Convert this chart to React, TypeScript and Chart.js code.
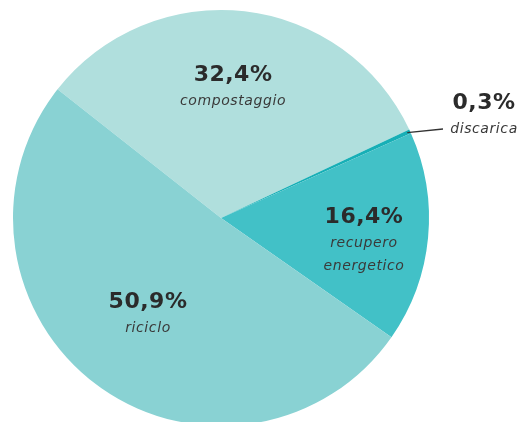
import React, { useEffect, useRef } from "react";
import { Chart, registerables } from "chart.js";

Chart.register(...registerables);

const categories = ["compostaggio", "discarica", "recupero energetico", "riciclo"];
const values = [32.4, 0.3, 16.4, 50.9];
const percentLabels = ["32,4%", "0,3%", "16,4%", "50,9%"];
const nameLines = [["compostaggio"], ["discarica"], ["recupero", "energetico"], ["riciclo"]];
const colors = ["#b0dfdd", "#17afb6", "#42c1c7", "#89d2d3"];

// per-slice label placement: radius fraction and angle tweak (deg)
const labelPlace = [
  { f: 0.69, da: -1.7 },
  { f: 1.38, da: 1.0 },
  { f: 0.6875, da: -5.8 },
  { f: 0.535, da: 4.4 },
];

const labelPlugin = {
  id: "sliceLabels",
  afterDatasetsDraw(chart: any) {
    const ctx = chart.ctx as CanvasRenderingContext2D;
    const meta = chart.getDatasetMeta(0);
    meta.data.forEach((arc: any, i: number) => {
      const { x, y, startAngle, endAngle, outerRadius } = arc.getProps(
        ["x", "y", "startAngle", "endAngle", "outerRadius"],
        true
      );
      const mid = (startAngle + endAngle) / 2 + (labelPlace[i].da * Math.PI) / 180;
      const r = outerRadius * labelPlace[i].f;
      const ax = x + Math.cos(mid) * r;
      const ay = y + Math.sin(mid) * r;
      ctx.save();
      if (i === 1) {
        const am = (startAngle + endAngle) / 2;
        const sx = x + Math.cos(am) * outerRadius * 0.985;
        const sy = y + Math.sin(am) * outerRadius * 0.985;
        ctx.strokeStyle = "#333";
        ctx.lineWidth = 1.3;
        ctx.beginPath();
        ctx.moveTo(sx, sy);
        ctx.lineTo(ax - 41, ay + 26);
        ctx.stroke();
      }
      ctx.textAlign = "center";
      ctx.textBaseline = "middle";
      ctx.fillStyle = "#2b2b2b";
      (ctx as any).letterSpacing = "0.5px";
      ctx.font = "bold 22px 'DejaVu Sans'";
      ctx.fillText(percentLabels[i], ax, ay);
      ctx.fillStyle = "#3a3a3a";
      (ctx as any).letterSpacing = "0.6px";
      ctx.font = "italic 14px 'DejaVu Sans'";
      nameLines[i].forEach((line, j) => {
        ctx.fillText(line, ax, ay + 26 + j * 23);
      });
      ctx.restore();
    });
  },
};

export default function App() {
  const ref = useRef<HTMLCanvasElement | null>(null);
  useEffect(() => {
    if (!ref.current) return;
    const chart = new Chart(ref.current, {
      type: "pie",
      data: {
        labels: categories,
        datasets: [
          {
            data: values,
            backgroundColor: colors,
            borderWidth: 0,
          },
        ],
      },
      options: {
        responsive: false,
        animation: false,
        rotation: -51.8,
        layout: { padding: { left: 13, right: 94, top: 10, bottom: 14 } },
        plugins: {
          legend: { display: false },
          tooltip: { enabled: false },
        },
      },
      plugins: [labelPlugin],
    });
    return () => chart.destroy();
  }, []);
  return (
    <div
      style={{
        position: "fixed",
        left: 0,
        top: 0,
        width: 523,
        height: 422,
        overflow: "hidden",
        background: "#fff",
      }}
    >
      <canvas ref={ref} width={523} height={440} style={{ width: 523, height: 440, display: "block" }} />
    </div>
  );
}
